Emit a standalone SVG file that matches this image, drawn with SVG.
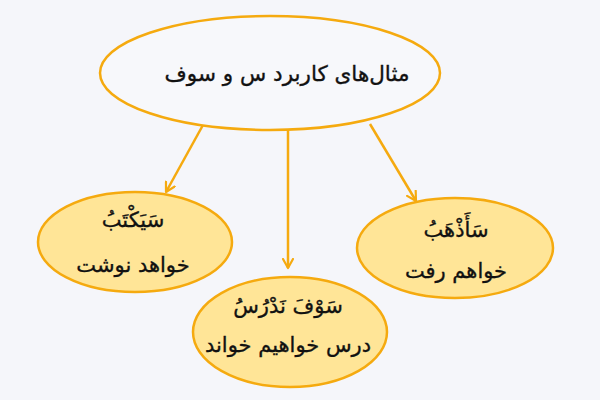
<svg xmlns="http://www.w3.org/2000/svg" width="600" height="400" viewBox="0 0 600 400">
<defs>
<style>
.bg{fill:#f5f6fa}
.root{fill:#f7f8fb;stroke:#f5aa0f;stroke-width:2.5}
.leaf{fill:#ffe597;stroke:#f5aa0f;stroke-width:2.5}
.edge{stroke:#f5aa0f;stroke-width:2.5;fill:none}
text{font-family:"DejaVu Sans","Noto Sans",sans-serif;fill:#111;stroke:#111;stroke-width:0.35;text-anchor:middle;direction:rtl}
.t{font-size:21.5px}
.s{font-size:21px}
</style>
<marker id="ah" viewBox="0 0 12 12" refX="10" refY="6" markerWidth="12" markerHeight="12" markerUnits="userSpaceOnUse" orient="auto">
<path d="M1,1 L10,6 L1,11" fill="none" stroke="#f5aa0f" stroke-width="2.2" stroke-linecap="round" stroke-linejoin="round"/>
</marker>
</defs>
<rect class="bg" x="0" y="0" width="600" height="400"/>
<g id="connectors">
<line class="edge" x1="203" y1="125" x2="166" y2="192" marker-end="url(#ah)"/>
<line class="edge" x1="288" y1="130" x2="288" y2="268" marker-end="url(#ah)"/>
<line class="edge" x1="370" y1="124" x2="416" y2="201" marker-end="url(#ah)"/>
</g>
<g id="root">
<ellipse class="root" cx="270" cy="73" rx="170" ry="57"/>
<text class="t" x="287" y="81">مثال‌های کاربرد س و سوف</text>
</g>
<g id="node-left">
<ellipse class="leaf" cx="135" cy="242" rx="97" ry="50"/>
<text class="s" x="133" y="227">سَیَکْتَبُ</text>
<text class="s" x="133" y="272">خواهد نوشت</text>
</g>
<g id="node-right">
<ellipse class="leaf" cx="455" cy="248" rx="98" ry="50"/>
<text class="s" x="456" y="237">سَأَذْهَبُ</text>
<text class="s" x="456" y="278">خواهم رفت</text>
</g>
<g id="node-bottom">
<ellipse class="leaf" cx="290" cy="332" rx="97" ry="55"/>
<text class="s" x="288" y="313">سَوْفَ نَدْرُسُ</text>
<text class="s" x="288" y="352">درس خواهیم خواند</text>
</g>
</svg>
